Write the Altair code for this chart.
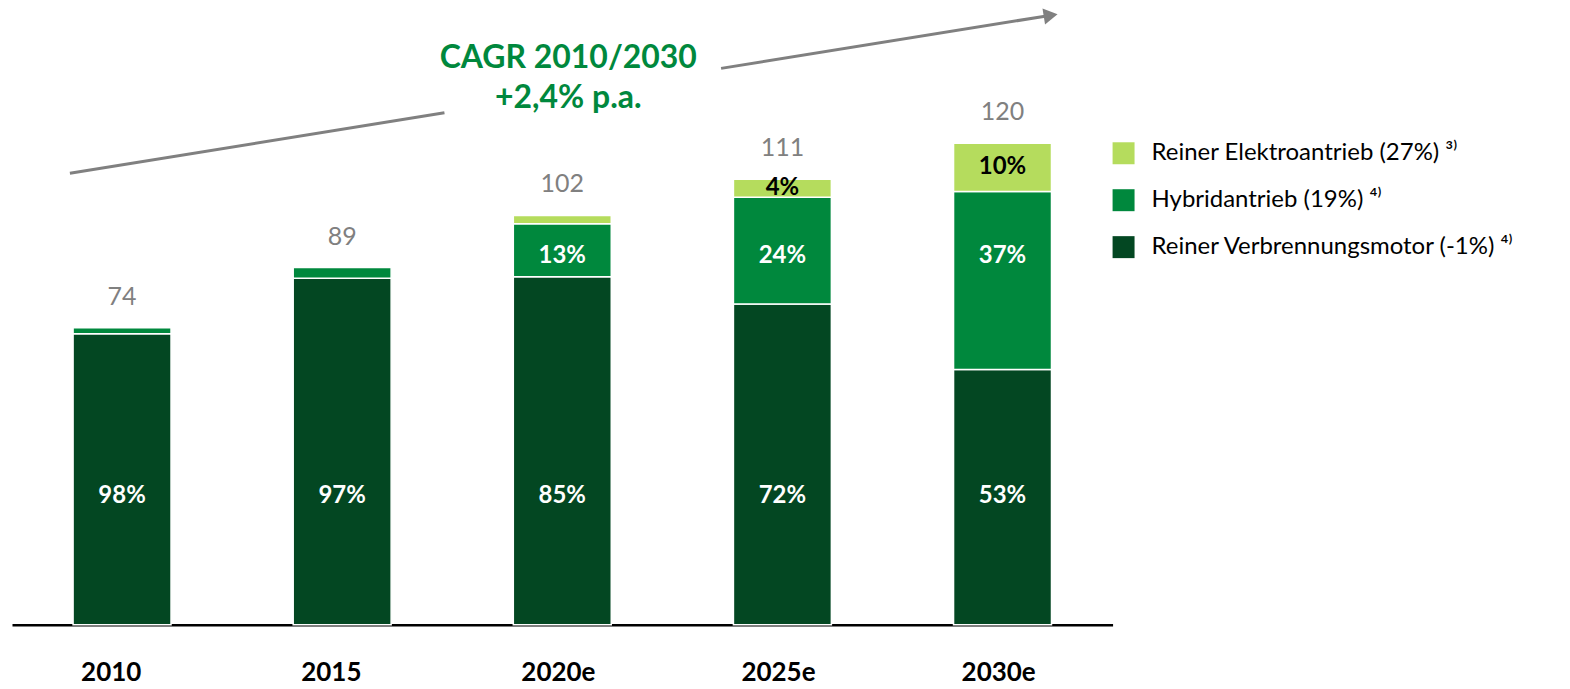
import altair as alt
import pandas as pd

years = ["2010", "2015", "2020e", "2025e", "2030e"]
totals = [74, 89, 102, 111, 120]
ice_share = [98, 97, 85, 72, 53]
hyb_share = [2, 3, 13, 24, 37]
ele_share = [0, 0, 2, 4, 10]
ice_labels = ["98%", "97%", "85%", "72%", "53%"]
hyb_labels = ["", "", "13%", "24%", "37%"]
ele_labels = ["", "", "", "4%", "10%"]

seg_names = [
    "Reiner Elektroantrieb (27%) \u00b3\u207e",
    "Hybridantrieb (19%) \u2074\u207e",
    "Reiner Verbrennungsmotor (-1%) \u2074\u207e",
]
seg_colors = ["#B5DC5D", "#00883D", "#034722"]

rows = []
labels = []
for i, y in enumerate(years):
    t = totals[i]
    ice = t * ice_share[i] / 100
    hyb = t * hyb_share[i] / 100
    ele = t * ele_share[i] / 100
    for name, val, order in [(seg_names[2], ice, 0), (seg_names[1], hyb, 1), (seg_names[0], ele, 2)]:
        if val > 0:
            rows.append({"year": y, "segment": name, "value": val, "order": order})
    if ice_labels[i]:
        labels.append({"year": y, "txt": ice_labels[i], "pos": 32, "col": "white"})
    if hyb_labels[i]:
        labels.append({"year": y, "txt": hyb_labels[i], "pos": 92, "col": "white"})
    if ele_labels[i]:
        labels.append({"year": y, "txt": ele_labels[i], "pos": ice + hyb + ele / 2, "col": "black"})

df = pd.DataFrame(rows)
lab = pd.DataFrame(labels)
tot = pd.DataFrame({"year": years, "total": totals})
one = pd.DataFrame({"a": [0]})

FONT = "Lato"
xenc = alt.X("year:N", sort=years, title=None,
             scale=alt.Scale(paddingInner=0.555, paddingOuter=0.2775),
             axis=alt.Axis(labelAngle=0, labelFontSize=26, labelFontWeight="bold",
                           labelColor="black", ticks=False, domainColor="black",
                           domainWidth=2.5, labelPadding=35, labelFont=FONT,
                           labelAlign="left", labelOffset=-41))
yscale = alt.Scale(domain=[0, 153.6], nice=False, zero=True)

bars = alt.Chart(df).mark_bar(stroke="white", strokeWidth=1.5).encode(
    x=xenc,
    y=alt.Y("value:Q", stack="zero", scale=yscale, axis=None),
    color=alt.Color("segment:N", scale=alt.Scale(domain=seg_names, range=seg_colors),
                    legend=alt.Legend(title=None, orient="none", legendX=1101, legendY=133,
                                      symbolType="square", symbolSize=484, symbolStrokeWidth=0,
                                      labelFontSize=24, labelFont=FONT, labelColor="black",
                                      rowPadding=23, labelOffset=16, labelLimit=600)),
    order=alt.Order("order:Q"),
)

seglabels = alt.Chart(lab).mark_text(fontSize=24, fontWeight="bold", font=FONT, baseline="middle").encode(
    x=alt.X("year:N", sort=years),
    y=alt.Y("pos:Q", scale=yscale),
    text="txt:N",
    color=alt.Color("col:N", scale=None),
)

totlabels = alt.Chart(tot).mark_text(fontSize=25, font=FONT, color="#808080", baseline="middle", dy=-31).encode(
    x=alt.X("year:N", sort=years),
    y=alt.Y("total:Q", scale=yscale),
    text="total:Q",
)

line1 = alt.Chart(one).mark_rule(color="#808080", strokeWidth=3).encode(
    x=alt.value(58), y=alt.value(165), x2=alt.value(433), y2=alt.value(104.5))
line2 = alt.Chart(one).mark_rule(color="#808080", strokeWidth=3).encode(
    x=alt.value(710), y=alt.value(60), x2=alt.value(1036), y2=alt.value(7.5))
head = alt.Chart(one).mark_point(shape="triangle-right", filled=True, color="#808080",
                                 size=260, angle=351, opacity=1).encode(
    x=alt.value(1040), y=alt.value(7))
cagr = alt.Chart(one).mark_text(text=["CAGR 2010/2030", "+2,4% p.a."], fontSize=32, fontWeight="bold",
                                font=FONT, color="#00883D", lineHeight=40, baseline="middle").encode(
    x=alt.value(557), y=alt.value(50))

chart = alt.layer(bars, seglabels, totlabels, line1, line2, head, cagr).properties(
    width=1102, height=617,
    autosize=alt.AutoSizeParams(type="none"),
    padding={"left": 4, "top": 0, "right": 450, "bottom": 75},
).configure_view(stroke=None)

chart.save("out.html", embed_options={"renderer": "svg", "actions": False})
